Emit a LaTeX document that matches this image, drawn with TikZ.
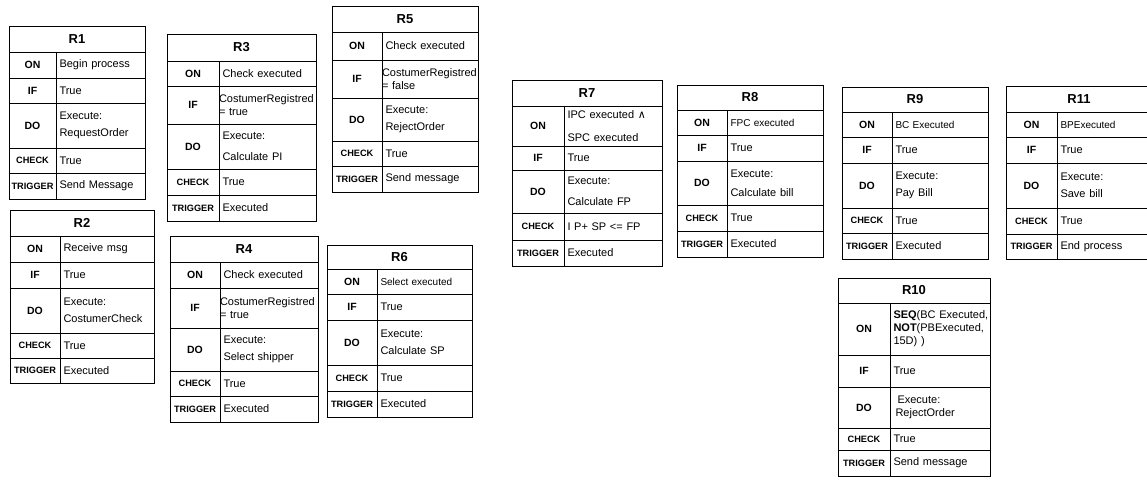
\documentclass[tikz,border=0pt]{standalone}
\usepackage{fontspec}
\setmainfont{Liberation Sans}
\newfontfamily\symfnt{DejaVu Sans}
\newcommand\hdrfont{\fontsize{13}{15}\selectfont\bfseries}
\newcommand\lblfont{\fontsize{10.5}{12}\selectfont\bfseries}
\newcommand\lblsfont{\fontsize{9.2}{11}\selectfont\bfseries}
\newcommand\cellfont{\fontsize{11}{17}\selectfont}
\tikzset{
  frame/.style={draw=black, line width=1pt},
  hdr/.style={frame, font=\hdrfont, inner sep=0pt},
  lbl/.style={frame, font=\lblfont, inner sep=0pt},
  lbls/.style={frame, font=\lblsfont, inner sep=0pt},
  cell/.style={frame, font=\cellfont, align=left, inner xsep=3.5pt, inner ysep=0pt,
    execute at begin node={\hyphenpenalty=10000\exhyphenpenalty=10000}},
  smallcell/.style={font={\fontsize{10}{12}\selectfont}},
  wide/.style={font={\fontsize{11}{#1}\selectfont}},
}
\newcommand\thead[6]{%
  \xdef\RTn{#1}\xdef\RTl{#2}\xdef\RTm{#3}\xdef\RTr{#4}%
  \node[hdr, minimum width={(#4)-(#2)}, minimum height={(#6)-(#5)}] (#1) at ({((#2)+(#4))/2},{((#5)+(#6))/2}) {#1};%
}
\newcommand\trow[7][]{%
  \pgfmathsetmacro\RTcw{\RTr-\RTm-7}%
  \node[#5, minimum width={\RTm-\RTl}, minimum height={(#4)-(#3)}] (\RTn-#2-l) at ({(\RTl+\RTm)/2},{((#3)+(#4))/2}) {#6};%
  \node[cell, text width=\RTcw pt, minimum height={(#4)-(#3)}, #1] (\RTn-#2-c) at ({(\RTm+\RTr)/2},{((#3)+(#4))/2}) {#7};%
}
\begin{document}
\begin{tikzpicture}[x=1pt,y=-1pt]
\fill[white] (0,0) rectangle (1147,479);
\useasboundingbox (0,0) rectangle (1147,479);
% R1
\thead{R1}{9}{56}{145}{26}{52}
\trow{on}{52}{78}{lbl}{ON}{Begin process}
\trow{if}{78}{103}{lbl}{IF}{True}
\trow{do}{103}{148}{lbl}{DO}{Execute:\\RequestOrder}
\trow{check}{148}{173}{lbls}{CHECK}{True}
\trow{trigger}{173}{199}{lbls}{TRIGGER}{Send Message}
% R2
\thead{R2}{10}{60}{154}{210}{236}
\trow{on}{236}{262}{lbl}{ON}{Receive msg}
\trow{if}{262}{288}{lbl}{IF}{True}
\trow{do}{288}{333}{lbl}{DO}{Execute:\\\mbox{CostumerCheck}}
\trow{check}{333}{358}{lbls}{CHECK}{True}
\trow{trigger}{358}{383}{lbls}{TRIGGER}{Executed}
% R3
\thead{R3}{167}{219}{316}{34}{61}
\trow{on}{61}{86}{lbl}{ON}{Check executed}
\trow[wide=13.5]{if}{86}{124}{lbl}{IF}{\hspace*{-3.5pt}\mbox{CostumerRegistred}\\\hspace*{-3.5pt}= true}
\trow[wide=21.5]{do}{124}{169}{lbl}{DO}{Execute:\\Calculate PI}
\trow{check}{169}{195}{lbls}{CHECK}{True}
\trow{trigger}{195}{221}{lbls}{TRIGGER}{Executed}
% R4
\thead{R4}{170}{220}{318}{236}{262}
\trow{on}{262}{288}{lbl}{ON}{Check executed}
\trow[wide=13.5]{if}{288}{328}{lbl}{IF}{\hspace*{-3.5pt}\mbox{CostumerRegistred}\\\hspace*{-3.5pt}= true}
\trow{do}{328}{371}{lbl}{DO}{Execute:\\Select shipper}
\trow{check}{371}{396}{lbls}{CHECK}{True}
\trow{trigger}{396}{422}{lbls}{TRIGGER}{Executed}
% R5
\thead{R5}{332}{382}{478}{6}{32}
\trow{on}{32}{60}{lbl}{ON}{Check executed}
\trow[wide=13.5]{if}{60}{98}{lbl}{IF}{\hspace*{-3.5pt}\mbox{CostumerRegistred}\\\hspace*{-3.5pt}= false}
\trow{do}{98}{141}{lbl}{DO}{Execute:\\RejectOrder}
\trow{check}{141}{166}{lbls}{CHECK}{True}
\trow{trigger}{166}{192}{lbls}{TRIGGER}{Send message}
% R6
\thead{R6}{327}{377}{472}{245}{269}
\trow[smallcell]{on}{269}{294}{lbl}{ON}{Select executed}
\trow{if}{294}{320}{lbl}{IF}{True}
\trow{do}{320}{365}{lbl}{DO}{Execute:\\Calculate SP}
\trow{check}{365}{391}{lbls}{CHECK}{True}
\trow{trigger}{391}{417}{lbls}{TRIGGER}{Executed}
% R7
\thead{R7}{512}{564}{662}{80}{106}
\trow[wide=23]{on}{106}{146}{lbl}{ON}{IPC executed {\symfnt ∧}\\SPC executed}
\trow{if}{146}{170}{lbl}{IF}{True}
\trow[wide=21.5]{do}{170}{213}{lbl}{DO}{Execute:\\Calculate FP}
\trow{check}{213}{240}{lbls}{CHECK}{I P+ SP <= FP}
\trow{trigger}{240}{266}{lbls}{TRIGGER}{Executed}
% R8
\thead{R8}{677}{727}{823}{85}{110}
\trow[smallcell]{on}{110}{135}{lbl}{ON}{FPC executed}
\trow{if}{135}{161}{lbl}{IF}{True}
\trow[wide=19]{do}{161}{205}{lbl}{DO}{Execute:\\Calculate bill}
\trow{check}{205}{231}{lbls}{CHECK}{True}
\trow{trigger}{231}{257}{lbls}{TRIGGER}{Executed}
% R9
\thead{R9}{842}{892}{988}{87}{112}
\trow[smallcell]{on}{112}{137}{lbl}{ON}{BC Executed}
\trow{if}{137}{163}{lbl}{IF}{True}
\trow{do}{163}{208}{lbl}{DO}{Execute:\\Pay Bill}
\trow{check}{208}{233}{lbls}{CHECK}{True}
\trow{trigger}{233}{259}{lbls}{TRIGGER}{Executed}
% R11
\thead{R11}{1006}{1057}{1152}{86}{112}
\trow[smallcell]{on}{112}{137}{lbl}{ON}{BPExecuted}
\trow{if}{137}{163}{lbl}{IF}{True}
\trow{do}{163}{208}{lbl}{DO}{Execute:\\Save bill}
\trow{check}{208}{234}{lbls}{CHECK}{True}
\trow{trigger}{234}{259}{lbls}{TRIGGER}{End process}
% R10
\thead{R10}{838}{890}{990}{278}{303}
\trow[wide=13]{on}{303}{355}{lbl}{ON}{\mbox{\textbf{SEQ}(BC Executed,}\\\textbf{NOT}(PBExecuted,\\15D) )}
\trow{if}{355}{387}{lbl}{IF}{True}
\trow[wide=12.5]{do}{387}{428}{lbl}{DO}{\hspace*{4pt}Execute:\\\hspace*{2pt}RejectOrder}
\trow{check}{428}{450}{lbls}{CHECK}{True}
\trow{trigger}{450}{476}{lbls}{TRIGGER}{Send message}
\end{tikzpicture}
\end{document}
